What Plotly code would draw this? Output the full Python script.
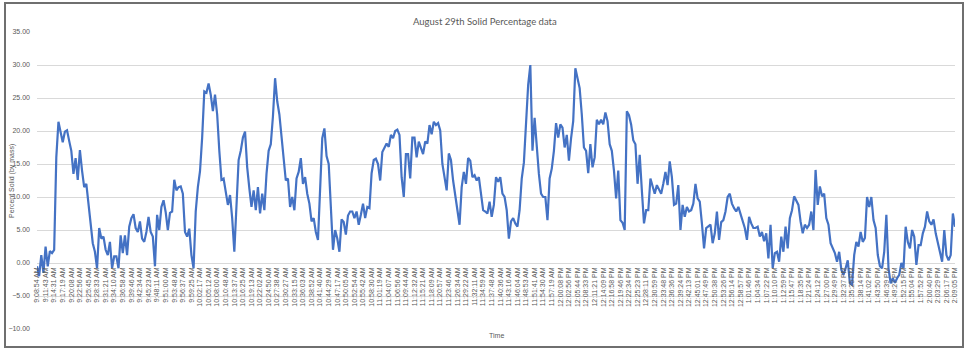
import plotly.graph_objects as go

# Percent solid (by mass) at ~4 samples per labelled time step
percent_solid = [
    -0.5, -2.0, 1.2, -1.5, 2.5, -0.5, 1.8, 1.5, 2.0, 16.0,
    21.4, 19.9, 18.3, 19.9, 20.1, 18.5, 17.0, 13.5, 15.9, 12.6,
    17.1, 14.0, 11.5, 12.0, 9.3, 6.5, 3.0, 1.7, -0.8, 5.3,
    3.7, 4.0, 2.0, 1.2, 3.2, -0.8, 1.0, 1.0, -0.8, 4.2,
    1.5, 4.2, 1.2, 5.5, 6.8, 7.4, 5.3, 4.7, 6.3, 3.7,
    3.2, 4.7, 7.0, 4.7, 4.0, -0.5, 7.3, 5.0, 8.5, 9.5,
    7.7, 5.0, 7.6, 7.8, 12.6, 11.0, 11.5, 11.6, 10.5, 4.7,
    4.0, 5.2, 1.2, -0.8, 7.8, 11.5, 13.9, 19.0, 26.0, 25.8,
    27.2, 25.5, 23.0, 25.5, 22.5, 17.0, 12.6, 12.8, 11.0, 8.8,
    10.3, 6.8, 1.7, 10.0, 15.6, 17.0, 19.0, 19.9, 14.5, 11.3,
    8.5, 11.0, 8.0, 11.5, 7.5, 10.5, 8.0, 13.5, 17.0, 18.0,
    22.2, 28.0, 24.5, 22.5, 19.5, 15.9, 12.5, 12.8, 8.5, 10.0,
    8.0, 12.8, 13.8, 15.9, 12.0, 13.0, 10.5, 9.0, 6.3, 6.8,
    4.7, 3.5, 11.3, 18.9, 20.4, 16.2, 15.0, 9.0, 2.0, 5.0,
    3.7, 1.7, 6.6, 6.2, 4.3, 7.2, 7.8, 7.8, 6.8, 7.8,
    5.8, 7.3, 9.0, 6.8, 8.5, 8.3, 13.6, 15.6, 15.8, 15.0,
    12.5, 16.8, 17.5, 18.1, 17.6, 19.4, 18.9, 20.0, 20.2, 19.4,
    13.0, 10.0, 16.5, 16.5, 12.8, 19.0, 19.0, 16.0, 18.4, 17.6,
    16.5, 18.4, 18.1, 20.9, 19.5, 21.4, 20.9, 21.2, 20.1, 15.0,
    13.0, 11.0, 16.6, 15.6, 12.5, 10.0, 7.5, 5.8, 11.5, 13.8,
    12.0, 15.9, 15.5, 13.0, 13.3, 12.5, 13.0, 10.8, 8.0, 7.8,
    7.5, 9.3, 7.0, 8.8, 13.0, 12.3, 13.0, 10.5, 10.0, 8.0,
    3.7, 6.3, 6.8, 6.0, 5.5, 8.0, 12.8, 15.2, 21.0, 27.0,
    30.0, 17.0, 22.0, 17.0, 13.5, 10.5, 10.0, 10.0, 6.5, 12.8,
    14.3, 17.0, 21.2, 19.0, 21.0, 20.5, 17.5, 19.4, 15.5, 18.9,
    21.5, 29.5, 28.2, 26.5, 22.5, 17.5, 17.0, 13.6, 18.0, 14.5,
    16.0, 21.7, 21.0, 21.7, 21.0, 22.8, 21.5, 18.0, 17.0, 14.0,
    9.8, 14.0, 6.5, 6.1, 5.0, 23.0, 22.4, 21.0, 18.6, 18.0,
    12.0, 16.4, 11.0, 6.0, 8.0, 8.0, 12.8, 11.5, 10.5, 11.8,
    11.0, 10.5, 12.0, 13.8, 11.8, 15.4, 13.0, 8.8, 9.0, 11.8,
    5.0, 8.8, 7.0, 8.5, 7.8, 8.0, 9.0, 12.0, 9.8, 9.3,
    6.0, 2.2, 5.3, 5.5, 5.8, 3.0, 4.5, 7.8, 3.5, 6.2,
    6.5, 7.8, 10.0, 10.5, 9.0, 8.3, 7.8, 8.5, 7.5, 6.2,
    5.3, 3.5, 7.0, 6.0, 5.3, 5.3, 5.5, 4.0, 4.7, 3.3,
    4.5, 0.7, 5.8, -0.8, 1.5, 1.7, 0.2, 4.0, 1.7, 5.5,
    2.2, 6.8, 8.0, 10.1, 9.5, 8.8, 6.3, 4.5, 5.8, 5.3,
    5.8, 7.8, 5.0, 14.1, 8.8, 11.6, 10.1, 10.5, 6.8, 5.8,
    3.0, 2.2, 1.5, 0.2, 1.7, -1.0, -1.8, -0.8, 0.4, -3.1,
    -3.3, 1.2, 3.2, 2.5, 4.7, 3.2, 3.8, 10.0, 8.5, 10.0,
    6.5, 5.3, 1.2, -0.5, -0.8, 1.7, 7.3, -0.8, -3.1, -2.3,
    -3.0, -2.3, -1.8, 0.0, -0.8, 5.5, 3.2, 2.2, 5.0, 4.0,
    -0.3, 2.7, 2.7, 4.5, 5.5, 7.8, 6.3, 5.8, 6.6, 4.5,
    3.2, 1.7, 0.2, 5.0, 1.2, 0.4, 1.2, 7.5, 5.5,
]

time_labels = [
    "9:08:54 AM", "9:11:43 AM", "9:14:31 AM", "9:17:19 AM", "9:20:08 AM",
    "9:22:56 AM", "9:25:45 AM", "9:28:33 AM", "9:31:21 AM", "9:34:10 AM",
    "9:36:58 AM", "9:39:46 AM", "9:42:34 AM", "9:45:23 AM", "9:48:11 AM",
    "9:51:00 AM", "9:53:48 AM", "9:56:37 AM", "9:59:25 AM", "10:02:17 AM",
    "10:05:12 AM", "10:08:00 AM", "10:10:48 AM", "10:13:37 AM", "10:16:25 AM",
    "10:19:13 AM", "10:22:02 AM", "10:24:50 AM", "10:27:38 AM", "10:30:27 AM",
    "10:33:15 AM", "10:36:03 AM", "10:38:52 AM", "10:41:40 AM", "10:44:29 AM",
    "10:47:17 AM", "10:50:05 AM", "10:52:54 AM", "10:55:42 AM", "10:58:30 AM",
    "11:01:19 AM", "11:04:07 AM", "11:06:56 AM", "11:09:44 AM", "11:12:32 AM",
    "11:15:21 AM", "11:18:09 AM", "11:20:57 AM", "11:23:46 AM", "11:26:34 AM",
    "11:29:22 AM", "11:32:11 AM", "11:34:59 AM", "11:37:48 AM", "11:40:36 AM",
    "11:43:16 AM", "11:46:04 AM", "11:48:53 AM", "11:51:41 AM", "11:54:30 AM",
    "11:57:19 AM", "12:00:08 PM", "12:02:56 PM", "12:05:44 PM", "12:08:33 PM",
    "12:11:21 PM", "12:14:09 PM", "12:16:58 PM", "12:19:46 PM", "12:22:34 PM",
    "12:25:23 PM", "12:28:11 PM", "12:30:59 PM", "12:33:48 PM", "12:36:36 PM",
    "12:39:24 PM", "12:42:13 PM", "12:45:01 PM", "12:47:49 PM", "12:50:38 PM",
    "12:53:26 PM", "12:56:14 PM", "12:58:57 PM", "1:01:46 PM", "1:04:34 PM",
    "1:07:22 PM", "1:10:10 PM", "1:12:59 PM", "1:15:47 PM", "1:18:35 PM",
    "1:21:24 PM", "1:24:12 PM", "1:27:00 PM", "1:29:49 PM", "1:32:37 PM",
    "1:35:25 PM", "1:38:14 PM", "1:41:02 PM", "1:43:50 PM", "1:46:39 PM",
    "1:49:27 PM", "1:52:15 PM", "1:55:04 PM", "1:57:52 PM", "2:00:40 PM",
    "2:03:29 PM", "2:06:17 PM", "2:09:05 PM",
]

samples_per_label = 4
x_idx = list(range(len(percent_solid)))
tick_pos = x_idx[::samples_per_label][:len(time_labels)]

W, H = 968, 351
L, R, T, B = 37, 13, 32, 22
pw, ph = W - L - R, H - T - B

def px(xpix):
    return (xpix - L) / pw

def py(ypix):
    return (H - B - ypix) / ph

GRAY = "#595959"
narrow = "Liberation Sans Narrow, Liberation Sans, Arial"

fig = go.Figure()
fig.add_trace(go.Scatter(
    x=x_idx, y=percent_solid, mode="lines",
    line=dict(color="#4472C4", width=2.2),
    hoverinfo="skip", showlegend=False,
))

fig.update_layout(
    width=W, height=H,
    margin=dict(l=L, r=R, t=T, b=B, autoexpand=False),
    paper_bgcolor="white", plot_bgcolor="white",
    showlegend=False,
    xaxis=dict(
        range=[0, len(percent_solid) - 1],
        tickmode="array", tickvals=tick_pos, ticktext=time_labels,
        tickangle=-90, tickfont=dict(family=narrow, size=7, color=GRAY),
        showgrid=False, zeroline=False, showline=False, ticks="",
        anchor="free", position=10 / 45, automargin=False,
        ticklabelstandoff=2,
    ),
    yaxis=dict(
        range=[-10, 35], dtick=5, tick0=0, tickformat=".2f",
        tickfont=dict(family=narrow, size=7, color=GRAY),
        showgrid=True, gridcolor="#d9d9d9", gridwidth=1,
        zeroline=True, zerolinecolor="#d9d9d9", zerolinewidth=1,
        showline=False, ticks="", automargin=False,
        ticklabelstandoff=6,
    ),
    annotations=[
        dict(text="August 29th Solid Percentage data", x=px(485), y=py(21),
             xref="paper", yref="paper", showarrow=False,
             xanchor="center", yanchor="middle",
             font=dict(family="Lato, Open Sans", size=9.5, color=GRAY)),
        dict(text="Percent Solid (by mass)", x=px(12), y=py(181),
             xref="paper", yref="paper", showarrow=False, textangle=-90,
             xanchor="center", yanchor="middle",
             font=dict(family=narrow, size=7, color=GRAY)),
        dict(text="Time", x=px(496), y=py(335.5),
             xref="paper", yref="paper", showarrow=False,
             xanchor="center", yanchor="middle",
             font=dict(family=narrow, size=7, color=GRAY)),
    ],
    shapes=[
        dict(type="rect", xref="paper", yref="paper",
             x0=px(5), x1=px(963), y0=py(347), y1=py(3),
             line=dict(color="#6f6f6f", width=2), layer="above"),
    ],
)

fig.write_html("out.html")
